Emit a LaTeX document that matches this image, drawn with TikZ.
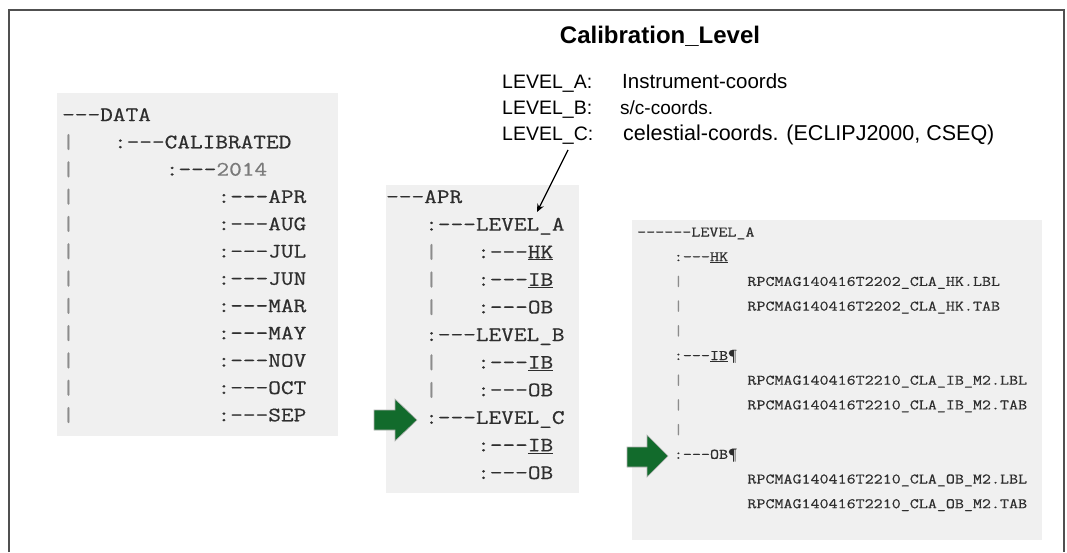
\documentclass[tikz,border=0pt]{standalone}
\usepackage{fontspec}
\setmainfont{Liberation Sans}
\newfontfamily\monofam[FakeStretch=1.2,FakeBold=0.6]{Latin Modern Mono}
\newfontfamily\monofamB[FakeStretch=1.2,FakeBold=0.4]{Latin Modern Mono}
\usetikzlibrary{arrows.meta}
\definecolor{boxgray}{HTML}{F0F0F0}
\definecolor{codetxt}{HTML}{2E2E2E}
\definecolor{bartxt}{HTML}{8C8C8C}
\definecolor{yeartxt}{HTML}{7A7A7A}
\definecolor{framecol}{HTML}{505050}
\definecolor{arrowgreen}{HTML}{126B2C}
\tikzset{
  codeA/.style={font=\monofam\fontsize{20.5}{20.5}\selectfont, anchor=base west, inner sep=0pt, text=codetxt},
  codeB/.style={font=\monofamB\fontsize{14.6}{14.6}\selectfont, anchor=base west, inner sep=0pt, text=codetxt},
  barA/.style={codeA, text=bartxt},
  barB/.style={codeB, text=bartxt},
  boxbg/.style={fill=boxgray, draw=none},
  greenarrow/.style={fill=arrowgreen, draw=gray!60, line width=0.6pt},
  lbl/.style={font=\fontsize{19.5}{19.5}\selectfont, anchor=base west, inner sep=0pt},
}
\begin{document}
\begin{tikzpicture}[x=1pt,y=-1pt]
\useasboundingbox (0,0) rectangle (1067,552);
\fill[white] (0,0) rectangle (1067,552);
% frame
\draw[framecol, line width=2pt] (9,552) -- (9,10) -- (1064,10) -- (1064,552);

% boxes
\fill[boxbg] (57,93) rectangle (338,436);
\fill[boxbg] (386,185) rectangle (579,493);
\fill[boxbg] (632,220) rectangle (1042,540);

% title and legend
\node[font=\bfseries\fontsize{24}{24}\selectfont, anchor=base, inner sep=0pt] (title) at (660,43) {Calibration\_Level};
\node[lbl] (la) at (502,88) {LEVEL\_A:};
\node[lbl] (lb) at (502,114) {LEVEL\_B:};
\node[lbl] (lc) at (502,140) {LEVEL\_C:};
\node[lbl, font=\fontsize{20.5}{20.5}\selectfont] (ta) at (622,88) {Instrument-coords};
\node[lbl, font=\fontsize{19}{19}\selectfont] (tb) at (620,114) {s/c-coords.};
\node[lbl, font=\fontsize{21.5}{21.5}\selectfont] (tc) at (623,140) {celestial-coords. (ECLIPJ2000, CSEQ)};

% box 1
\node[codeA] (d0) at (62,121) {-{}-{}-DATA};
\node[barA] (d1b) at (62,148.3) {|};
\node[codeA] (d1) at (113.8,148.3) {:-{}-{}-CALIBRATED};
\node[barA] (d2b) at (62,175.6) {|};
\node[codeA] (d2) at (165.6,175.6) {:-{}-{}-\textcolor{yeartxt}{2014}};
\node[barA] (d3b) at (62,202.9) {|};
\node[codeA] (d3) at (217.4,202.9) {:-{}-{}-APR};
\node[barA] (d4b) at (62,230.2) {|};
\node[codeA] (d4) at (217.4,230.2) {:-{}-{}-AUG};
\node[barA] (d5b) at (62,257.5) {|};
\node[codeA] (d5) at (217.4,257.5) {:-{}-{}-JUL};
\node[barA] (d6b) at (62,284.8) {|};
\node[codeA] (d6) at (217.4,284.8) {:-{}-{}-JUN};
\node[barA] (d7b) at (62,312.1) {|};
\node[codeA] (d7) at (217.4,312.1) {:-{}-{}-MAR};
\node[barA] (d8b) at (62,339.4) {|};
\node[codeA] (d8) at (217.4,339.4) {:-{}-{}-MAY};
\node[barA] (d9b) at (62,366.7) {|};
\node[codeA] (d9) at (217.4,366.7) {:-{}-{}-NOV};
\node[barA] (d10b) at (62,394) {|};
\node[codeA] (d10) at (217.4,394) {:-{}-{}-OCT};
\node[barA] (d11b) at (62,421.3) {|};
\node[codeA] (d11) at (217.4,421.3) {:-{}-{}-SEP};

% box 2
\node[codeA] (a0) at (386,203) {-{}-{}-APR};
\node[codeA] (a1) at (425,230.6) {:-{}-{}-LEVEL\_A};
\node[barA] (a2b) at (425,258.2) {|};
\node[codeA] (a2) at (477,258.2) {:-{}-{}-\underline{HK}};
\node[barA] (a3b) at (425,285.8) {|};
\node[codeA] (a3) at (477,285.8) {:-{}-{}-\underline{IB}};
\node[barA] (a4b) at (425,313.4) {|};
\node[codeA] (a4) at (477,313.4) {:-{}-{}-OB};
\node[codeA] (a5) at (425,341) {:-{}-{}-LEVEL\_B};
\node[barA] (a6b) at (425,368.6) {|};
\node[codeA] (a6) at (477,368.6) {:-{}-{}-\underline{IB}};
\node[barA] (a7b) at (425,396.2) {|};
\node[codeA] (a7) at (477,396.2) {:-{}-{}-OB};
\node[codeA] (a8) at (425,423.8) {:-{}-{}-LEVEL\_C};
\node[codeA] (a9) at (477,451.4) {:-{}-{}-\underline{IB}};
\node[codeA] (a10) at (477,479) {:-{}-{}-OB};

% box 3
\node[codeB] (b0) at (637,236.5) {-{}-{}-{}-{}-{}-LEVEL\_A};
\node[codeB] (b1) at (673.7,261.2) {:-{}-{}-\underline{HK}};
\node[barB] (b2b) at (673.7,285.9) {|};
\node[codeB] (b2) at (747.2,285.9) {RPCMAG140416T2202\_CLA\_HK.LBL};
\node[barB] (b3b) at (673.7,310.6) {|};
\node[codeB] (b3) at (747.2,310.6) {RPCMAG140416T2202\_CLA\_HK.TAB};
\node[barB] (b4b) at (673.7,335.3) {|};
\node[codeB] (b5) at (673.7,360) {:-{}-{}-\underline{IB}¶};
\node[barB] (b6b) at (673.7,384.7) {|};
\node[codeB] (b6) at (747.2,384.7) {RPCMAG140416T2210\_CLA\_IB\_M2.LBL};
\node[barB] (b7b) at (673.7,409.4) {|};
\node[codeB] (b7) at (747.2,409.4) {RPCMAG140416T2210\_CLA\_IB\_M2.TAB};
\node[barB] (b8b) at (673.7,434.1) {|};
\node[codeB] (b9) at (673.7,458.8) {:-{}-{}-OB¶};
\node[codeB] (b10) at (747.2,483.5) {RPCMAG140416T2210\_CLA\_OB\_M2.LBL};
\node[codeB] (b11) at (747.2,508.2) {RPCMAG140416T2210\_CLA\_OB\_M2.TAB};

% pointer arrow
\coordinate (ptrS) at (568,150);
\coordinate (ptrE) at (537,212);
\draw[line width=1.3pt, -{Stealth[length=8pt,width=7pt]}] (ptrS) -- (ptrE);

% green arrows
\draw[greenarrow] (374,410) -- (395,410) -- (395,399) -- (417,420) -- (395,441) -- (395,430) -- (374,430) -- cycle;
\draw[greenarrow] (627,447) -- (647,447) -- (647,435) -- (668,456) -- (647,477) -- (647,467) -- (627,467) -- cycle;
\end{tikzpicture}
\end{document}
